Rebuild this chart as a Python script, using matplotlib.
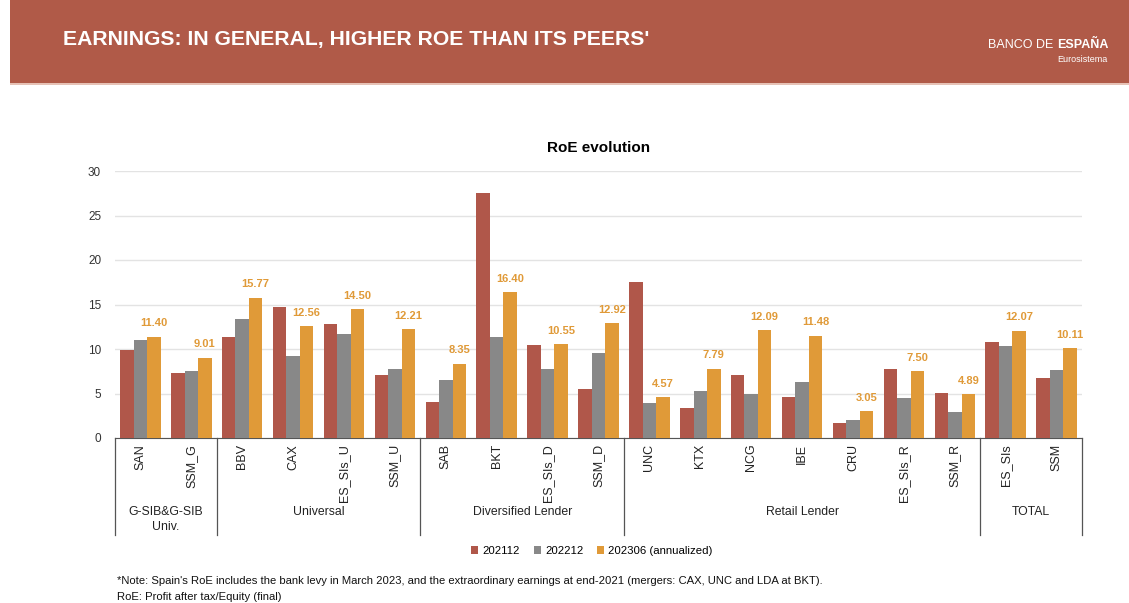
import matplotlib.pyplot as plt
from matplotlib.patches import Patch, Rectangle
from matplotlib.transforms import blended_transform_factory
import numpy as np

plt.rcParams['font.family'] = ['Liberation Sans', 'DejaVu Sans']

# data
banks = ["SAN", "SSM_G",
         "BBV", "CAX", "ES_SIs_U", "SSM_U",
         "SAB", "BKT", "ES_SIs_D", "SSM_D",
         "UNC", "KTX", "NCG", "IBE", "CRU", "ES_SIs_R", "SSM_R",
         "ES_SIs", "SSM"]
groups = ["G-SIB&G-SIB\nUniv.", "Universal", "Diversified Lender", "Retail Lender", "TOTAL"]
group_sizes = [2, 4, 4, 7, 2]

roe_202112 = [9.9, 7.3, 11.4, 14.7, 12.8, 7.1, 4.1, 27.5, 10.5, 5.55,
              17.5, 3.4, 7.05, 4.6, 1.7, 7.7, 5.05, 10.8, 6.7]
roe_202212 = [11.0, 7.55, 13.4, 9.2, 11.7, 7.7, 6.55, 11.35, 7.8, 9.5,
              3.9, 5.3, 4.9, 6.3, 2.05, 4.5, 2.9, 10.3, 7.65]
roe_202306 = [11.40, 9.01, 15.77, 12.56, 14.50, 12.21, 8.35, 16.40, 10.55, 12.92,
              4.57, 7.79, 12.09, 11.48, 3.05, 7.50, 4.89, 12.07, 10.11]

series_labels = ["202112", "202212", "202306 (annualized)"]
colors = ["#B0574A", "#888888", "#E09A38"]

fig = plt.figure(figsize=(11.29, 6.03), dpi=100)

# header band
fig.patches.append(Rectangle((10 / 1129, 1 - 83 / 603), 1, 83 / 603, transform=fig.transFigure,
                             facecolor="#B05A48", edgecolor="none", zorder=0))
fig.patches.append(Rectangle((10 / 1129, 1 - 85 / 603), 1, 2 / 603, transform=fig.transFigure,
                             facecolor="#E6C2B6", edgecolor="none", zorder=0))
fig.text(63 / 1129, 1 - 40 / 603, "EARNINGS: IN GENERAL, HIGHER ROE THAN ITS PEERS'",
         color="white", fontsize=15.2, fontweight="bold", va="center", ha="left")
fig.text(1108 / 1129, 1 - 45 / 603, "BANCO DE ", color="white", fontsize=9, va="center", ha="right")
fig.text(1108 / 1129, 1 - 45 / 603, "ESPAÑA", color="white", fontsize=9, fontweight="bold",
         va="center", ha="right")
fig.text(1108 / 1129, 1 - 60 / 603, "Eurosistema", color="white", fontsize=6.5, va="center", ha="right")

# put "BANCO DE" right before the bold word
fig.canvas.draw()
renderer = fig.canvas.get_renderer()
bb = fig.texts[2].get_window_extent(renderer)
fig.texts[1].set_position((bb.x0 / fig.bbox.width, 1 - 45 / 603))

ax = fig.add_axes([115 / 1129, 1 - 438 / 603, 967 / 1129, 267 / 603])

x = np.arange(len(banks))
w = 0.265
for i, (vals, col) in enumerate(zip([roe_202112, roe_202212, roe_202306], colors)):
    ax.bar(x + (i - 1) * w, vals, width=w, color=col, zorder=3)

for xi, v in zip(x, roe_202306):
    ax.annotate(f"{v:.2f}", (xi + w, v), xytext=(0, 6), textcoords="offset points",
                ha="center", va="bottom", color="#E09A38", fontsize=8, fontweight="bold")

ax.set_xlim(-0.5, len(banks) - 0.5)
ax.set_ylim(0, 30)
ax.set_yticks(range(0, 31, 5))
ax.tick_params(axis="y", length=0, labelsize=8.5, labelcolor="#333333", pad=10)
ax.set_xticks([])
ax.grid(axis="y", color="#E3E3E3", linewidth=1, zorder=0)
for s in ["top", "right", "left"]:
    ax.spines[s].set_visible(False)
ax.spines["bottom"].set_color("#555555")

ax.set_title("RoE evolution", fontsize=11, fontweight="bold", pad=14)

trans = blended_transform_factory(ax.transData, ax.transAxes)
for xi, name in zip(x, banks):
    ax.text(xi, -0.022, name, rotation=90, ha="center", va="top", fontsize=9,
            color="#222222", transform=trans)

start = 0
bounds = [-0.5]
for g, n in zip(groups, group_sizes):
    center = start + (n - 1) / 2
    ax.text(center, -0.255, g, ha="center", va="top", fontsize=8.8, color="#222222",
            transform=trans, linespacing=1.35)
    start += n
    bounds.append(start - 0.5)
for b in bounds:
    ax.plot([b, b], [0, -0.365], color="#555555", linewidth=0.9, transform=trans, clip_on=False)

handles = [Patch(facecolor=c, edgecolor="none") for c in colors]
fig.legend(handles, series_labels, loc="center", bbox_to_anchor=(592 / 1129, 1 - 551 / 603),
           ncol=3, frameon=False, fontsize=8.2, handlelength=0.6, handleheight=0.6,
           handletextpad=0.4, columnspacing=1.2)

fig.text(117 / 1129, 1 - 581 / 603,
         "*Note: Spain's RoE includes the bank levy in March 2023, and the extraordinary earnings at end-2021 "
         "(mergers: CAX, UNC and LDA at BKT).",
         fontsize=8.1, ha="left", va="center", color="#111111")
fig.text(117 / 1129, 1 - 597 / 603, "RoE: Profit after tax/Equity (final)",
         fontsize=8.1, ha="left", va="center", color="#111111")

fig.savefig("out.png", dpi=100)
